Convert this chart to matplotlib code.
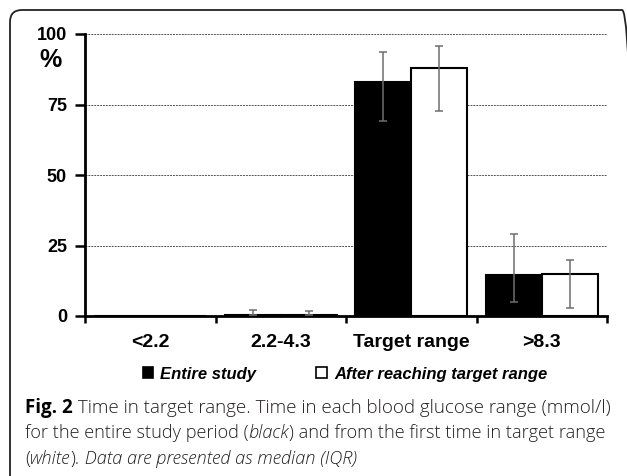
import matplotlib
matplotlib.use('Agg')
import matplotlib.pyplot as plt
import numpy as np
from matplotlib.patches import FancyBboxPatch, Patch

categories = ['<2.2', '2.2-4.3', 'Target range', '>8.3']
entire = [0, 0.5, 83.0, 14.5]
entire_lo = [0, 0.5, 69.0, 5.0]
entire_hi = [0, 2.0, 93.6, 29.0]
after = [0, 0.5, 87.8, 14.8]
after_lo = [0, 0.5, 72.8, 2.8]
after_hi = [0, 1.8, 95.8, 19.8]
yticks = [0, 25, 50, 75, 100]

plt.rcParams['font.family'] = ['Liberation Sans', 'DejaVu Sans']

fig = plt.figure(figsize=(6.27, 4.76), dpi=100)
ax = fig.add_axes([85/627, 1-316/476, 522/627, 282/476])

x = np.arange(len(categories))
w = 0.43
e_err = [np.array(entire) - np.array(entire_lo), np.array(entire_hi) - np.array(entire)]
a_err = [np.array(after) - np.array(after_lo), np.array(after_hi) - np.array(after)]
ekw = dict(ecolor='#6e6e6e', elinewidth=1.1, capsize=3, capthick=1.1)
ax.bar(x - w/2, entire, w, color='black', edgecolor='black', linewidth=1.5, zorder=3)
ax.bar(x + w/2, after, w, color='white', edgecolor='black', linewidth=1.5, zorder=3)
# skip the empty first category
for i in range(1, len(categories)):
    ax.errorbar(x[i] - w/2, entire[i], yerr=[[e_err[0][i]], [e_err[1][i]]], fmt='none', zorder=4, **ekw)
    ax.errorbar(x[i] + w/2, after[i], yerr=[[a_err[0][i]], [a_err[1][i]]], fmt='none', zorder=4, **ekw)

ax.set_xlim(-0.5, len(categories) - 0.5)
ax.set_ylim(0, 100)
ax.set_yticks(yticks)
ax.set_yticklabels([str(v) for v in yticks], fontsize=13, fontweight='bold')
ax.set_xticks(np.arange(-0.5, len(categories)), minor=False)
ax.set_xticklabels([])
ax.set_xticks(x, minor=True)
ax.set_xticklabels(categories, minor=True, fontsize=14, fontweight='bold')
ax.tick_params(axis='x', which='minor', length=0, pad=13)
ax.tick_params(axis='x', which='major', length=5, width=1.8, direction='out')
ax.tick_params(axis='y', length=7, width=1.8, direction='out', pad=6)
for s in ['top', 'right']:
    ax.spines[s].set_visible(False)
ax.spines['left'].set_linewidth(2)
ax.spines['bottom'].set_linewidth(2)
for v in yticks[1:]:
    ax.axhline(v, color='#555555', linestyle=(0, (2, 1)), linewidth=0.7, zorder=1)

fig.text(50/627, 1-60/476, '%', fontsize=18, fontweight='bold', ha='center', va='center')

handles = [Patch(facecolor='black', edgecolor='black', linewidth=1.2, label='Entire study'),
           Patch(facecolor='white', edgecolor='black', linewidth=1.2, label='After reaching target range')]
fig.legend(handles=handles, loc='center', bbox_to_anchor=(345/627, 1-374/476), ncol=2, frameon=False,
           handlelength=0.62, handleheight=0.62, handletextpad=0.45, columnspacing=3.6,
           borderpad=0, borderaxespad=0,
           prop=dict(family='Liberation Sans', weight='bold', style='italic', size=12))

# frame, open at the bottom and cut at the right
frame = FancyBboxPatch((10, -40), 624, 476 - 10 + 40, boxstyle='round,pad=0,rounding_size=12',
                       transform=None, facecolor='none', edgecolor='#222222', linewidth=1.3)
fig.patches.append(frame)

# caption
cap_font = 'Open Sans'
lines = [
    [('Fig. 2', 'bold', 'normal'), (' Time in target range. Time in each blood glucose range (mmol/l)', 'light', 'normal')],
    [('for the entire study period (', 'light', 'normal'), ('black', 'light', 'italic'),
     (') and from the first time in target range', 'light', 'normal')],
    [('(', 'light', 'normal'), ('white', 'light', 'italic'), (').', 'light', 'normal'),
     (' Data are presented as median (IQR)', 'light', 'italic')],
]
line_y = [413, 438.5, 464]
line_fs = [13.5, 13.1, 13.1]
fig.canvas.draw()
renderer = fig.canvas.get_renderer()
for segs, yy, fs in zip(lines, line_y, line_fs):
    xpos = 25
    for txt, wt, st in segs:
        t = fig.text(xpos/627, 1-yy/476, txt, fontsize=fs, family=cap_font, fontweight=wt, style=st,
                     color='#231f20' if wt != 'bold' else 'black', va='baseline', ha='left')
        bb = t.get_window_extent(renderer=renderer)
        xpos += bb.width

fig.savefig('out.png', dpi=100)
